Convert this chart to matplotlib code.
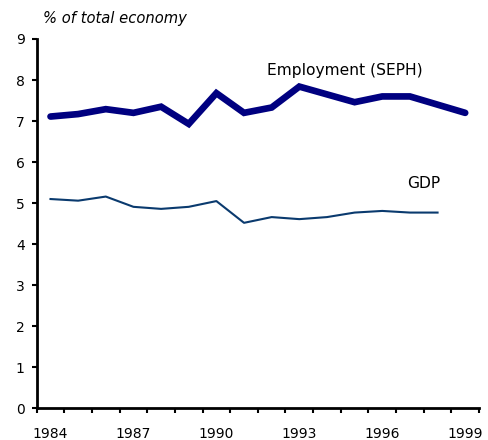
import matplotlib.pyplot as plt

plt.rcParams['font.family'] = ['DejaVu Sans']

years = list(range(1984, 2000))
employment = [7.11, 7.17, 7.29, 7.20, 7.35, 6.93, 7.68, 7.20, 7.33, 7.84,
              7.65, 7.46, 7.60, 7.60, 7.40, 7.20]
gdp = [5.10, 5.06, 5.16, 4.91, 4.86, 4.91, 5.05, 4.52, 4.66, 4.61,
       4.66, 4.77, 4.81, 4.77, 4.77]
year_labels = ['1984', '1987', '1990', '1993', '1996', '1999']

fig = plt.figure(figsize=(4.89, 4.40), dpi=100)
ax = fig.add_axes([0.075, 0.072, 0.9046, 0.8394])

x_emp = list(range(len(employment)))
x_gdp = list(range(len(gdp)))
ax.plot(x_emp, employment, color='#000080', lw=4.8, solid_capstyle='round',
        solid_joinstyle='miter')
ax.plot(x_gdp, gdp, color='#0a3a6e', lw=1.5)

ax.set_xlim(-0.5, len(years) - 0.5)
ax.set_ylim(0, 9)
ax.set_yticks(range(10))

# ticks between categories, labels every third year
ax.set_xticks([i - 0.5 for i in range(len(years) + 1)])
ax.set_xticklabels([])
ax.set_xticks([0, 3, 6, 9, 12, 15], minor=True)
ax.set_xticklabels(year_labels, minor=True)
ax.tick_params(axis='x', which='minor', length=0, pad=13.5, labelsize=10)
ax.tick_params(axis='x', which='major', length=3.6, width=1.5)
ax.tick_params(axis='y', length=3.6, width=1.5, labelsize=10, pad=5)

for s in ['top', 'right']:
    ax.spines[s].set_visible(False)
for s in ['left', 'bottom']:
    ax.spines[s].set_linewidth(2)

fig.text(43 / 489, 1 - 18 / 440, '% of total economy', style='italic',
         fontsize=10.6, va='center', ha='left')
fig.text(267 / 489, 1 - 70 / 440, 'Employment (SEPH)',
         fontsize=11.2, va='center', ha='left')
fig.text(407 / 489, 1 - 183 / 440, 'GDP',
         fontsize=11.2, va='center', ha='left')

plt.savefig('out.png', dpi=100)
plt.close()
